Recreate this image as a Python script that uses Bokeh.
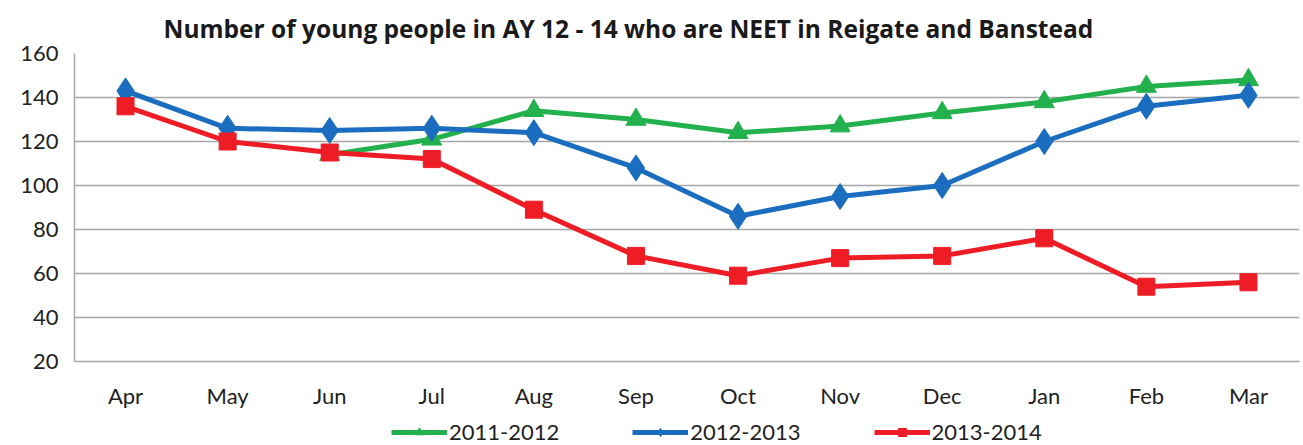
from bokeh.plotting import figure
from bokeh.models import Legend, LegendItem, Title, Range1d, FixedTicker
from bokeh.layouts import column
from bokeh.embed import file_html
from bokeh.resources import INLINE
import numpy as np

months = ["Apr", "May", "Jun", "Jul", "Aug", "Sep", "Oct", "Nov", "Dec", "Jan", "Feb", "Mar"]
s2011 = [np.nan, np.nan, 114, 121, 134, 130, 124, 127, 133, 138, 145, 148]
s2012 = [143, 126, 125, 126, 124, 108, 86, 95, 100, 120, 136, 141]
s2013 = [136, 120, 115, 112, 89, 68, 59, 67, 68, 76, 54, 56]
yticks = [20, 40, 60, 80, 100, 120, 140, 160]
series_names = ["2011-2012", "2012-2013", "2013-2014"]

FONT = "Lato"
GREEN = "#23B14D"
BLUE = "#1B6DBF"
RED = "#EE1C25"

p = figure(x_range=months, y_range=Range1d(20, 160), frame_width=1225, frame_height=308,
           output_backend="svg", toolbar_location=None,
           min_border_left=74, min_border_right=4, min_border_top=53, min_border_bottom=44)
p.outline_line_color = None
p.background_fill_color = "white"

t = Title(text="Number of young people in AY 12 - 14 who are NEET in Reigate and Banstead",
          align="left", offset=89, text_font="Open Sans", text_font_size="24.5px",
          text_font_style="bold", text_color="#1a1a1a", standoff=14, vertical_align="top")
p.add_layout(t, "above")

p.xgrid.grid_line_color = None
p.ygrid.grid_line_color = "#a6a6a6"
p.ygrid.grid_line_width = 1.5
p.yaxis.ticker = FixedTicker(ticks=yticks)
for ax in (p.xaxis, p.yaxis):
    ax.axis_line_color = "#a6a6a6"
    ax.axis_line_width = 1.5
    ax.major_tick_line_color = None
    ax.minor_tick_line_color = None
    ax.major_tick_out = 0
    ax.major_tick_in = 0
    ax.axis_label_standoff = 0
    ax.major_label_text_font = FONT
    ax.major_label_text_font_size = "22px"
    ax.major_label_text_color = "#222222"
p.xaxis.major_label_standoff = 20
p.yaxis.major_label_standoff = 16

p.line(months, s2011, color=GREEN, line_width=5)
p.scatter(months, s2011, marker="triangle", size=20, color=GREEN)
p.line(months, s2012, color=BLUE, line_width=5)
p.scatter(months, s2012, marker="diamond", size=26, color=BLUE)
p.line(months, s2013, color=RED, line_width=5)
p.scatter(months, s2013, marker="square", size=17, color=RED)

# legend strip below the chart (proxy glyphs lie outside its visible range)
p2 = figure(width=1303, height=36, output_backend="svg", toolbar_location=None,
            x_axis_type=None, y_axis_type=None, min_border=0,
            x_range=Range1d(0, 1), y_range=Range1d(0, 1))
p2.outline_line_color = None
p2.grid.grid_line_color = None
off_x = [-10, -9]
off_y = [-10, -9]
k1 = p2.line(off_x, off_y, color=GREEN, line_width=5)
j1 = p2.scatter(off_x, off_y, marker="triangle", size=20, color=GREEN)
k2 = p2.line(off_x, off_y, color=BLUE, line_width=5)
j2 = p2.scatter(off_x, off_y, marker="diamond", size=26, color=BLUE)
k3 = p2.line(off_x, off_y, color=RED, line_width=5)
j3 = p2.scatter(off_x, off_y, marker="square", size=17, color=RED)

legend = Legend(items=[LegendItem(label=series_names[0], renderers=[k1, j1]),
                       LegendItem(label=series_names[1], renderers=[k2, j2]),
                       LegendItem(label=series_names[2], renderers=[k3, j3])],
                orientation="horizontal", location=(317, 2),
                label_text_font=FONT, label_text_font_size="22px", label_text_color="#222222",
                glyph_width=56, glyph_height=20, label_standoff=2, spacing=73,
                padding=0, margin=0, border_line_color=None, background_fill_alpha=0)
p2.add_layout(legend, "center")

layout = column(p, p2, spacing=0)
open("out.html", "w").write(file_html(layout, INLINE))
